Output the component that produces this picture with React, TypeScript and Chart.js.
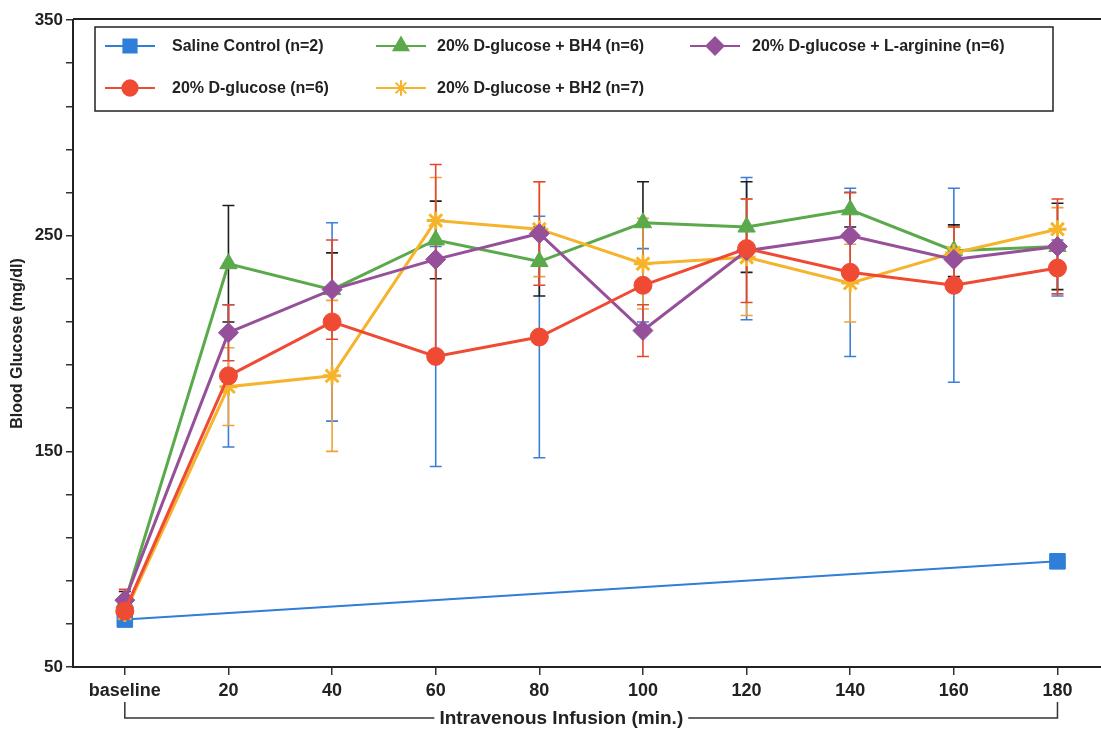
import React, { useEffect, useRef } from 'react';
import { Chart, registerables } from 'chart.js';
import { drawPoint } from 'chart.js/helpers';

Chart.register(...registerables);

// ---- data ----
const xLabels = ['baseline', '20', '40', '60', '80', '100', '120', '140', '160', '180'];
const salineControl = [72, null, null, null, null, null, null, null, null, 99];
const dGlucose = [76, 185, 210, 194, 203, 227, 244, 233, 227, 235];
const dGlucoseBH4 = [80, 237, 225, 248, 238, 256, 254, 262, 243, 245];
const dGlucoseBH2 = [75, 180, 185, 257, 253, 237, 240, 228, 242, 253];
const dGlucoseLArg = [81, 205, 225, 239, 251, 206, 243, 250, 239, 245];

const errDGlucose = [5, 33, 46, 51, 56, 17, 33, 39, 45, 13];
const errBH4 = [5, 27, 17, 18, 16, 19, 21, 8, 12, 20];
const errBH2 = [5, 18, 35, 20, 22, 21, 27, 18, 12, 10];
const errLArg = [5, 13, 23, 44, 24, 12, 24, 20, 15, 22];

const yTickValues = [50, 70, 90, 110, 130, 150, 170, 190, 210, 230, 250, 270, 290, 310, 330, 350];
const yLabelValues = [50, 150, 250, 350];

const seriesNames = [
  'Saline Control (n=2)',
  '20% D-glucose (n=6)',
  '20% D-glucose + BH4 (n=6)',
  '20% D-glucose + BH2 (n=7)',
  '20% D-glucose + L-arginine (n=6)',
];

const FONT = "'Liberation Sans', Arial, Helvetica, sans-serif";

const toXY = (arr: (number | null)[]) => arr.map((v, i) => ({ x: i, y: v }));

const errorBarPlugin = {
  id: 'errorBars',
  beforeDatasetsDraw(chart: any) {
    const { ctx, scales } = chart;
    const xs = scales.x;
    const ys = scales.y;
    chart.data.datasets.forEach((ds: any) => {
      if (!ds.errors) return;
      ctx.save();
      ctx.strokeStyle = ds.errColor;
      ctx.lineWidth = 1.6;
      ds.data.forEach((pt: any, i: number) => {
        const e = ds.errors[i];
        if (pt.y == null || e == null) return;
        const x = xs.getPixelForValue(pt.x);
        const yt = ys.getPixelForValue(pt.y + e);
        const yb = ys.getPixelForValue(pt.y - e);
        ctx.beginPath();
        ctx.moveTo(x, yt);
        ctx.lineTo(x, yb);
        ctx.moveTo(x - 6, yt);
        ctx.lineTo(x + 6, yt);
        ctx.moveTo(x - 6, yb);
        ctx.lineTo(x + 6, yb);
        ctx.stroke();
      });
      ctx.restore();
    });
  },
};

const decorPlugin = {
  id: 'decor',
  afterDraw(chart: any) {
    const { ctx, chartArea, scales } = chart;
    const xs = scales.x;
    ctx.save();
    // top frame line
    ctx.strokeStyle = '#222';
    ctx.lineWidth = 2;
    ctx.beginPath();
    ctx.moveTo(chartArea.left, chartArea.top - 1);
    ctx.lineTo(chartArea.right, chartArea.top - 1);
    ctx.stroke();

    // bracket + axis title
    const x0 = xs.getPixelForValue(0);
    const x1 = xs.getPixelForValue(9);
    const yTop = chartArea.bottom + 35;
    const yLine = chartArea.bottom + 51;
    const title = 'Intravenous Infusion (min.)';
    ctx.font = `bold 19px ${FONT}`;
    const tw = ctx.measureText(title).width;
    const cx = x0 + (x1 - x0) * 0.468;
    ctx.lineWidth = 1.5;
    ctx.strokeStyle = '#333';
    ctx.beginPath();
    ctx.moveTo(x0, yTop);
    ctx.lineTo(x0, yLine);
    ctx.lineTo(cx - tw / 2 - 5, yLine);
    ctx.moveTo(cx + tw / 2 + 5, yLine);
    ctx.lineTo(x1, yLine);
    ctx.lineTo(x1, yTop);
    ctx.stroke();
    ctx.fillStyle = '#222';
    ctx.textAlign = 'center';
    ctx.textBaseline = 'middle';
    ctx.fillText(title, cx, yLine + 1);

    // legend box
    const bx = chartArea.left + 22;
    const by = chartArea.top + 7;
    const bw = 958;
    const bh = 84;
    ctx.fillStyle = '#fff';
    ctx.fillRect(bx, by, bw, bh);
    ctx.strokeStyle = '#222';
    ctx.lineWidth = 1.5;
    ctx.strokeRect(bx, by, bw, bh);

    const slots = [
      { col: 0, row: 0 },
      { col: 0, row: 1 },
      { col: 1, row: 0 },
      { col: 1, row: 1 },
      { col: 2, row: 0 },
    ];
    const colMarker = [bx + 35, bx + 306, bx + 620];
    const colText = [bx + 77, bx + 342, bx + 657];
    const rowY = [by + 19, by + 61];
    ctx.font = `bold 16px ${FONT}`;
    ctx.textAlign = 'left';
    chart.data.datasets.forEach((ds: any, i: number) => {
      const s = slots[i];
      const mx = colMarker[s.col];
      const my = rowY[s.row];
      ctx.strokeStyle = ds.borderColor;
      ctx.lineWidth = 2;
      ctx.beginPath();
      ctx.moveTo(mx - 25, my);
      ctx.lineTo(mx + 25, my);
      ctx.stroke();
      ctx.fillStyle = ds.pointBackgroundColor;
      ctx.strokeStyle = ds.pointBorderColor;
      drawPoint(ctx, {
        pointStyle: ds.pointStyle,
        radius: ds.pointRadius * 0.85,
        borderWidth: ds.pointBorderWidth,
        rotation: 0,
      } as any, mx, my);
      ctx.fillStyle = '#222';
      ctx.fillText(ds.label, colText[s.col], my + 1);
    });
    ctx.restore();
  },
};

export default function App() {
  const ref = useRef<HTMLCanvasElement>(null);

  useEffect(() => {
    document.body.style.margin = '0';
    const canvas = ref.current;
    if (!canvas) return;

    const green = '#5aa94b';
    const red = '#ef4a34';
    const orange = '#f5b42c';
    const purple = '#96509a';
    const blue = '#2f7ed8';

    const chart = new Chart(canvas, {
      type: 'line',
      data: {
        datasets: [
          {
            label: seriesNames[0],
            data: toXY(salineControl),
            borderColor: blue,
            backgroundColor: blue,
            pointBackgroundColor: blue,
            pointBorderColor: blue,
            pointStyle: 'rect',
            pointRadius: 11,
            pointBorderWidth: 1,
            borderWidth: 2,
            spanGaps: true,
            order: 5,
          } as any,
          {
            label: seriesNames[1],
            data: toXY(dGlucose),
            borderColor: red,
            backgroundColor: red,
            pointBackgroundColor: red,
            pointBorderColor: red,
            pointStyle: 'circle',
            pointRadius: 9,
            pointBorderWidth: 1,
            borderWidth: 3,
            errors: errDGlucose,
            errColor: '#3d7fd6',
            order: 1,
          },
          {
            label: seriesNames[2],
            data: toXY(dGlucoseBH4),
            borderColor: green,
            backgroundColor: green,
            pointBackgroundColor: green,
            pointBorderColor: green,
            pointStyle: 'triangle',
            pointRadius: 10,
            pointBorderWidth: 1,
            borderWidth: 3,
            errors: errBH4,
            errColor: '#1e1e1e',
            order: 4,
          },
          {
            label: seriesNames[3],
            data: toXY(dGlucoseBH2),
            borderColor: orange,
            backgroundColor: orange,
            pointBackgroundColor: orange,
            pointBorderColor: orange,
            pointStyle: 'star',
            pointRadius: 9,
            pointBorderWidth: 3,
            borderWidth: 3,
            errors: errBH2,
            errColor: '#f0a13a',
            order: 3,
          },
          {
            label: seriesNames[4],
            data: toXY(dGlucoseLArg),
            borderColor: purple,
            backgroundColor: purple,
            pointBackgroundColor: purple,
            pointBorderColor: purple,
            pointStyle: 'rectRot',
            pointRadius: 10,
            pointBorderWidth: 1,
            borderWidth: 3,
            errors: errLArg,
            errColor: '#e5462e',
            order: 2,
          },
        ] as any,
      },
      options: {
        responsive: false,
        animation: false,
        layout: { autoPadding: false, padding: { top: 20, right: 0, bottom: 0, left: 0 } },
        plugins: {
          legend: { display: false },
          tooltip: { enabled: false },
        },
        scales: {
          x: {
            type: 'linear',
            min: -0.5,
            max: 9.42,
            afterBuildTicks: (s: any) => {
              s.ticks = xLabels.map((_, i) => ({ value: i }));
            },
            afterFit: (s: any) => {
              s.height = 63;
              s.paddingRight = 0;
              s.paddingLeft = 0;
            },
            ticks: {
              callback: (v: any) => xLabels[v as number] ?? '',
              font: { family: FONT, size: 18, weight: 'bold' },
              color: '#222',
              padding: 5,
              autoSkip: false,
              maxRotation: 0,
            },
            grid: {
              display: true,
              drawOnChartArea: false,
              drawTicks: true,
              tickLength: 8,
              color: '#333',
              lineWidth: 1.5,
            },
            border: { display: true, color: '#222', width: 2 },
          },
          y: {
            type: 'linear',
            min: 50,
            max: 350,
            afterBuildTicks: (s: any) => {
              s.ticks = yTickValues.map((v) => ({ value: v }));
            },
            afterFit: (s: any) => {
              s.width = 73;
              s.paddingTop = 0;
              s.paddingBottom = 0;
            },
            ticks: {
              callback: (v: any) => (yLabelValues.includes(v as number) ? String(v) : ''),
              font: { family: FONT, size: 17, weight: 'bold' },
              color: '#222',
              padding: 3,
              autoSkip: false,
            },
            grid: {
              display: true,
              drawOnChartArea: false,
              drawTicks: true,
              tickLength: 7,
              color: '#333',
              lineWidth: 1.5,
            },
            border: { display: true, color: '#222', width: 2 },
            title: {
              display: true,
              text: 'Blood Glucose (mg/dl)',
              font: { family: FONT, size: 16, weight: 'bold' },
              color: '#222',
              padding: { top: 8, bottom: 0 },
            },
          },
        },
      } as any,
      plugins: [errorBarPlugin, decorPlugin],
    });

    return () => chart.destroy();
  }, []);

  return (
    <div style={{ width: 1101, height: 730, background: '#fff' }}>
      <canvas ref={ref} width={1101} height={730} />
    </div>
  );
}
